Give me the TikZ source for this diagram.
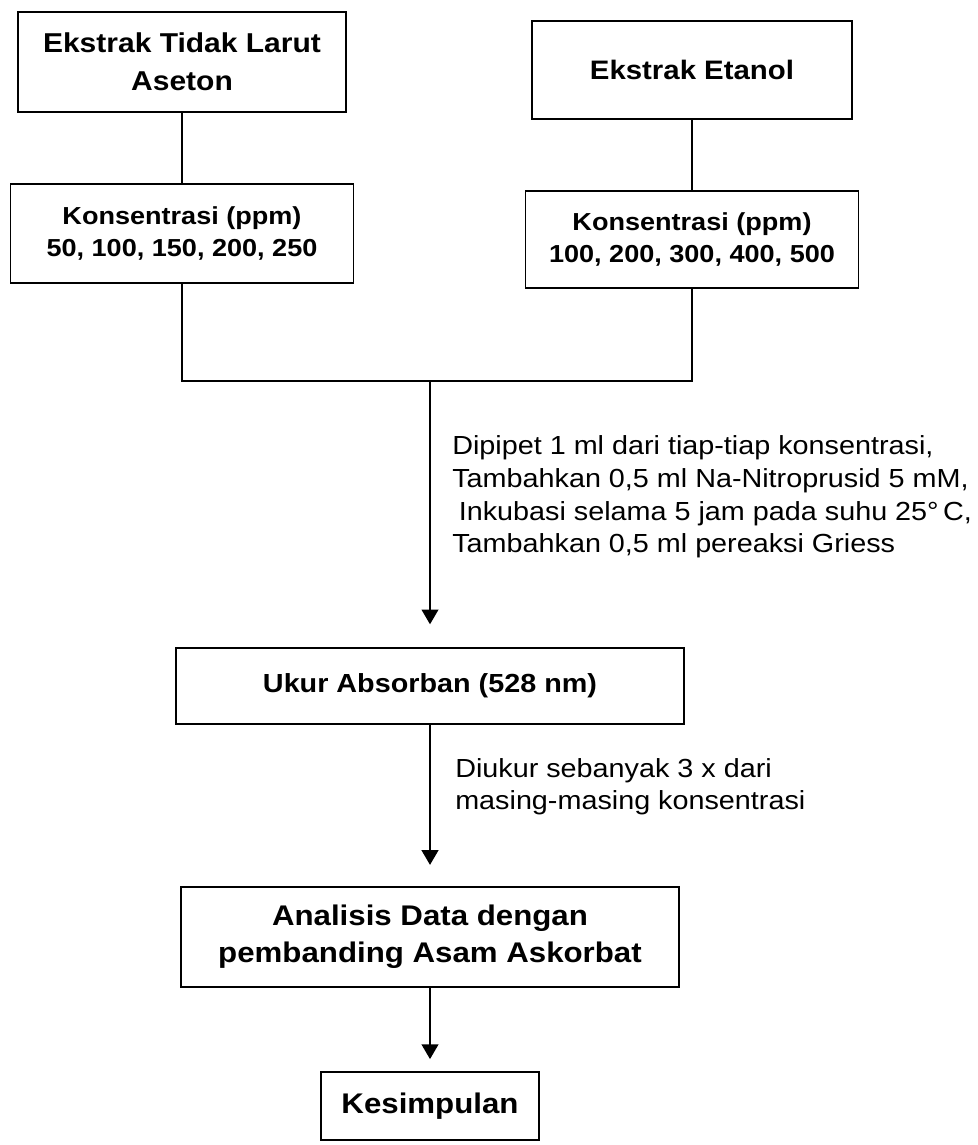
\documentclass[tikz,border=0pt]{standalone}
\usepackage{fontspec}
\setmainfont{Liberation Sans}[FakeStretch=1.1]
\usetikzlibrary{arrows.meta}

\begin{document}
\begin{tikzpicture}[
    box/.style={draw, line width=1.3pt, align=center, inner sep=0pt},
    note/.style={align=left, inner sep=0pt, anchor=base west, font=\fontsize{18.6}{23.4}\selectfont},
    line/.style={line width=1.1pt},
    arrow/.style={line width=1.1pt, -{Triangle[width=12pt,length=10.5pt]}}]
	\useasboundingbox (0,0) rectangle (24.45,28.625);

	\node[box, minimum width=8.2cm, minimum height=2.5cm, font=\bfseries\fontsize{19.4}{27}\selectfont] (aseton) at (4.55,27.075) {Ekstrak Tidak Larut\\Aseton};
	\node[box, minimum width=8cm, minimum height=2.45cm, font=\bfseries\fontsize{19}{27}\selectfont] (etanol) at (17.3,26.875) {Ekstrak Etanol};
	\node[box, minimum width=8.575cm, minimum height=2.475cm, font=\bfseries\fontsize{17.5}{22.8}\selectfont] (konsA) at (4.55,22.79) {Konsentrasi (ppm)\\50, 100, 150, 200, 250};
	\node[box, minimum width=8.325cm, minimum height=2.425cm, font=\bfseries\fontsize{17.5}{22.8}\selectfont] (konsB) at (17.3,22.64) {Konsentrasi (ppm)\\100, 200, 300, 400, 500};

	\draw[line] (aseton) -- (konsA);
	\draw[line] (etanol) -- (konsB);
	\coordinate (gabung) at (10.75,19.1);
	\draw[line] (konsA) |- (gabung) -| (konsB);

	\node[box, minimum width=12.7cm, minimum height=1.9cm, font=\bfseries\fontsize{18.6}{24}\selectfont] (ukur) at (10.75,11.475) {Ukur Absorban (528 nm)};
	\node[box, minimum width=12.45cm, minimum height=2.5cm, font=\bfseries\fontsize{20.2}{26.3}\selectfont] (analisis) at (10.75,5.2) {Analisis Data dengan\\pembanding Asam Askorbat};
	\node[box, minimum width=5.45cm, minimum height=1.7cm, font=\bfseries\fontsize{20.2}{26}\selectfont] (kesimpulan) at (10.75,0.975) {Kesimpulan};

	\draw[arrow, shorten >=0.57cm] (gabung) -- (ukur);
	\draw[arrow, shorten >=0.53cm] (ukur) -- (analisis);
	\draw[arrow, shorten >=0.3cm] (analisis) -- (kesimpulan);

	% base anchor sits on the last line
	\node[note] (perlakuan) at (11.3,14.8) {Dipipet 1 ml dari tiap-tiap konsentrasi,\\Tambahkan 0,5 ml Na-Nitroprusid 5 mM,\\\hspace*{0.25em}Inkubasi selama 5 jam pada suhu 25°\,C,\\Tambahkan 0,5 ml pereaksi Griess};
	\node[note] (ulangan) at (11.375,8.375) {Diukur sebanyak 3 x dari\\masing-masing konsentrasi};
\end{tikzpicture}
\end{document}
